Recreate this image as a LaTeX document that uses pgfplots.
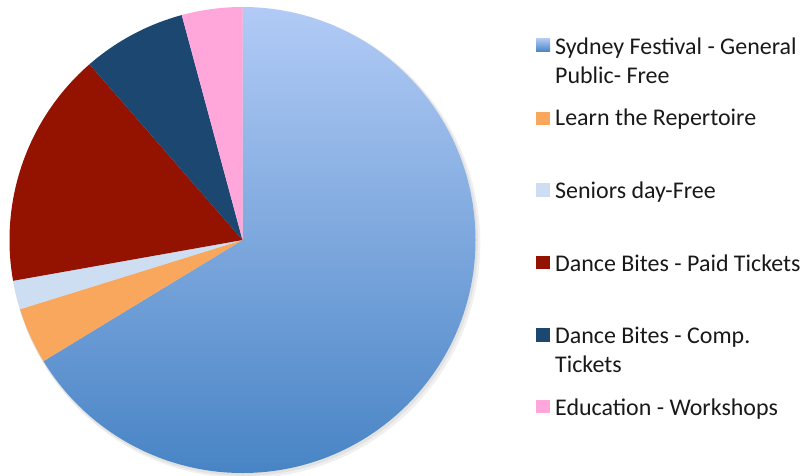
\documentclass[border=0pt]{standalone}
\usepackage{pgfplots}
\pgfplotsset{compat=1.18}
\usepackage{pgfplotstable}
\usepackage{fontspec}
\setmainfont{Carlito}

\definecolor{sydtop}{RGB}{178,203,246}
\definecolor{sydbot}{RGB}{72,132,197}
\definecolor{learn}{RGB}{249,167,92}
\definecolor{senior}{RGB}{205,222,242}
\definecolor{paid}{RGB}{147,18,0}
\definecolor{comp}{RGB}{28,71,112}
\definecolor{edu}{RGB}{255,167,218}

% share of each slice, in percent, clockwise from 12 o'clock
\pgfplotstableread{
slice value
1 66.3
2 3.9
3 2.0
4 16.4
5 7.2
6 4.2
}\piedata

\newcommand\slice[2]{%
  \path[#2] (0,0) -- ({cos(\csname st#1\endcsname)},{sin(\csname st#1\endcsname)})
    arc[start angle=\csname st#1\endcsname, end angle=\csname en#1\endcsname, radius=233pt] -- cycle;}

\begin{document}
\begin{tikzpicture}
\def\cum{0}
\pgfplotsforeachungrouped \i in {0,...,5}{%
  \pgfplotstablegetelem{\i}{value}\of\piedata
  \pgfmathsetmacro\s{90-\cum*3.6}%
  \pgfmathsetmacro\cum{\cum+\pgfplotsretval}%
  \pgfmathsetmacro\e{90-\cum*3.6}%
  \expandafter\let\csname st\i\endcsname\s
  \expandafter\let\csname en\i\endcsname\e
}
\begin{axis}[
    at={(9.5pt,2pt)}, anchor=south west,
    hide axis, scale only axis,
    width=466pt, height=466pt,
    xmin=-1, xmax=1, ymin=-1, ymax=1,
    clip=false]
\fill[black, opacity=0.06] (0.012,-0.014) circle[radius=235pt];
\fill[black, opacity=0.06] (0.006,-0.008) circle[radius=234pt];
\slice{0}{shade, top color=sydtop, bottom color=sydbot}
\slice{1}{fill=learn}
\slice{2}{fill=senior}
\slice{3}{fill=paid}
\slice{4}{fill=comp}
\slice{5}{fill=edu}
\end{axis}

% legend
\shade[top color=sydtop, bottom color=sydbot] (536pt,423.3pt) rectangle (550pt,436.7pt);
\fill[learn]  (536pt,350pt)   rectangle (550pt,363.3pt);
\fill[senior] (536pt,278.3pt) rectangle (550pt,291.7pt);
\fill[paid]   (536pt,206pt)   rectangle (550pt,219pt);
\fill[comp]   (536pt,133.3pt) rectangle (550pt,147pt);
\fill[edu]    (536pt,61.7pt)  rectangle (550pt,75pt);
\begin{scope}[every node/.style={anchor=base west, inner sep=0pt,
    font=\fontsize{23.95}{29}\selectfont, text=black!90}]
\node at (555pt,420.7pt) {Sydney Festival - General};
\node at (555pt,391.7pt) {Public- Free};
\node at (555pt,349pt)   {Learn the Repertoire};
\node at (555pt,276.7pt) {Seniors day-Free};
\node at (555pt,204pt)   {Dance Bites - Paid Tickets};
\node at (555pt,131.7pt) {Dance Bites - Comp.};
\node at (555pt,102.3pt) {Tickets};
\node at (555pt,60pt)    {Education - Workshops};
\end{scope}
\pgfresetboundingbox
\path[use as bounding box] (0,0) rectangle (803pt,475pt);
\end{tikzpicture}
\end{document}
